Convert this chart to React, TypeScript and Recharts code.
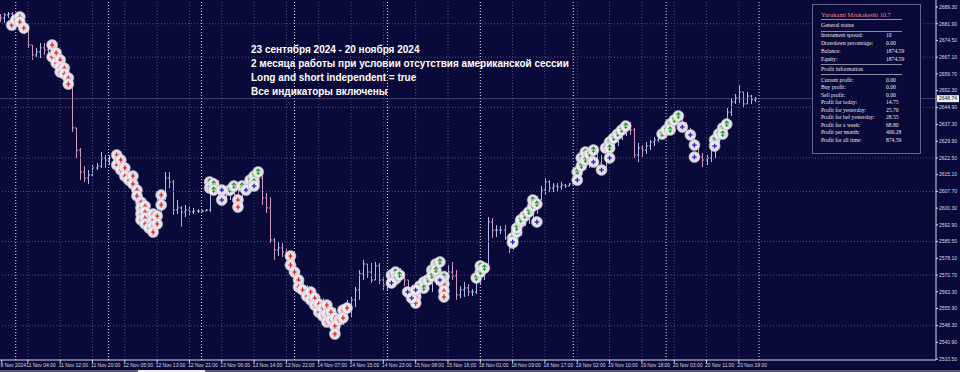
import { ComposedChart, Bar, Scatter, XAxis, YAxis, ReferenceLine } from "recharts";

const BG = "#0a0a3a";
const UP = "#aebcf0";
const DOWN = "#cc98bc";
const GRID = "#4e4e7e";
const SEP = "#e4e4f0";
const AXIS = "#d6d6e6";

// XAUUSD H1, 8 Nov 20:00 .. 20 Nov 23:00 (23 bars a day)
const opens = [
  2685.0, 2684.4, 2685.8, 2686.2,
  2684.4, 2682.7, 2680.9, 2679.1, 2672.5, 2668.1, 2669.4, 2671.2, 2670.3, 2671.2, 2669.4, 2665.0, 2661.4, 2657.9, 2655.2, 2635.8, 2626.0, 2616.3, 2613.6, 2615.0, 2618.1, 2618.9, 2622.5,
  2621.6, 2622.5, 2620.7, 2618.9, 2616.3, 2613.6, 2611.0, 2608.3, 2595.9, 2595.1, 2591.5, 2590.6, 2589.7, 2601.7, 2604.8, 2613.6, 2611.9, 2599.5, 2600.4, 2598.6, 2599.5, 2598.6, 2599.0,
  2599.0, 2599.0, 2599.5, 2610.5, 2611.4, 2607.4, 2605.7, 2606.1, 2608.3, 2606.1, 2601.7, 2608.3, 2610.5, 2612.7, 2614.5, 2613.6, 2604.8, 2600.4, 2586.2, 2581.8, 2582.7, 2580.9, 2579.1,
  2574.7, 2569.4, 2566.7, 2562.3, 2560.5, 2558.8, 2557.0, 2555.2, 2553.0, 2551.7, 2549.9, 2548.6, 2551.7, 2554.3, 2557.0, 2559.7, 2564.1, 2571.2, 2575.6, 2572.0, 2568.5, 2574.7, 2568.5,
  2566.3, 2567.2, 2570.3, 2572.0, 2570.7, 2568.5, 2561.4, 2559.7, 2563.2, 2566.7, 2568.5, 2569.4, 2572.9, 2574.7, 2570.3, 2563.2, 2572.0, 2570.3, 2561.9, 2564.1, 2565.0, 2563.2, 2563.2,
  2567.6, 2572.0, 2573.8, 2594.2, 2590.6, 2590.6, 2590.6, 2587.1, 2582.7, 2586.2, 2590.6, 2594.2, 2596.8, 2598.6, 2602.1, 2603.9, 2608.3, 2611.9, 2609.2, 2610.1, 2609.7, 2610.5, 2610.1,
  2611.0, 2611.9, 2615.4, 2621.6, 2623.8, 2623.4, 2621.6, 2620.3, 2618.1, 2626.0, 2629.6, 2631.3, 2633.1, 2634.9, 2636.6, 2634.9, 2623.8, 2626.9, 2626.0, 2627.8, 2629.6, 2630.5, 2632.7,
  2634.9, 2636.2, 2638.0, 2639.7, 2641.9, 2637.1, 2634.4, 2631.8, 2627.8, 2622.9, 2621.6, 2622.5, 2626.0, 2629.6, 2633.1, 2635.8, 2642.8, 2647.3, 2649.0, 2651.7, 2646.4, 2649.9, 2648.2,
];

const highs = [
  2686.2, 2686.6, 2687.1, 2687.1,
  2686.2, 2684.4, 2681.8, 2679.1, 2672.5, 2671.2, 2673.4, 2673.4, 2672.5, 2673.8, 2671.2, 2667.6, 2665.0, 2661.4, 2657.0, 2635.8, 2626.9, 2618.9, 2617.2, 2619.4, 2620.3, 2625.1, 2623.8,
  2623.8, 2625.1, 2623.8, 2621.6, 2619.4, 2617.2, 2613.6, 2609.2, 2606.1, 2602.6, 2599.5, 2598.6, 2605.7, 2607.4, 2616.3, 2616.3, 2612.7, 2603.9, 2601.2, 2601.7, 2600.8, 2600.4, 2599.9,
  2599.5, 2599.9, 2612.7, 2613.6, 2612.7, 2609.2, 2608.3, 2610.5, 2611.4, 2608.3, 2610.5, 2612.7, 2614.5, 2616.3, 2618.5, 2615.0, 2607.0, 2605.2, 2587.1, 2585.3, 2584.9, 2582.7, 2580.9,
  2575.6, 2572.9, 2567.6, 2566.3, 2564.1, 2563.2, 2561.4, 2560.5, 2558.8, 2557.4, 2556.1, 2555.2, 2557.4, 2559.7, 2561.0, 2565.4, 2572.9, 2577.4, 2575.6, 2576.0, 2576.5, 2576.0, 2569.8,
  2569.4, 2572.0, 2573.8, 2573.8, 2572.0, 2568.5, 2566.3, 2565.8, 2568.5, 2570.3, 2571.2, 2574.7, 2576.5, 2577.4, 2570.7, 2575.1, 2576.5, 2572.9, 2565.8, 2567.6, 2566.7, 2564.5, 2569.4,
  2573.8, 2575.6, 2596.4, 2595.9, 2592.8, 2592.4, 2592.8, 2588.0, 2588.0, 2592.4, 2595.9, 2598.6, 2600.4, 2603.9, 2605.7, 2610.1, 2613.6, 2612.7, 2611.4, 2611.4, 2611.9, 2611.0, 2611.4,
  2612.7, 2617.2, 2623.8, 2626.0, 2626.9, 2626.9, 2626.0, 2623.8, 2628.2, 2631.3, 2633.5, 2634.9, 2636.6, 2638.4, 2638.4, 2635.8, 2629.1, 2628.2, 2629.6, 2630.5, 2631.8, 2634.0, 2635.8,
  2637.5, 2639.3, 2641.1, 2642.8, 2642.4, 2638.4, 2635.8, 2632.2, 2628.2, 2624.7, 2623.8, 2626.9, 2631.3, 2634.9, 2637.5, 2644.6, 2649.0, 2650.8, 2654.8, 2651.7, 2651.7, 2650.4, 2649.5,
];

const lows = [
  2682.7, 2682.2, 2684.4, 2682.7,
  2680.9, 2679.1, 2677.4, 2671.2, 2665.9, 2667.2, 2666.7, 2668.1, 2668.1, 2668.1, 2663.2, 2658.8, 2656.1, 2653.5, 2634.0, 2622.5, 2612.7, 2611.9, 2611.0, 2614.5, 2617.2, 2618.1, 2618.1,
  2619.4, 2618.1, 2617.2, 2614.5, 2611.9, 2609.2, 2607.4, 2594.2, 2592.8, 2589.7, 2588.4, 2588.0, 2589.7, 2597.3, 2603.9, 2609.2, 2597.3, 2597.7, 2592.0, 2596.4, 2597.3, 2597.7, 2598.1,
  2598.6, 2599.0, 2598.6, 2606.1, 2604.8, 2603.0, 2602.6, 2603.9, 2601.7, 2599.5, 2600.4, 2606.1, 2607.4, 2608.3, 2610.5, 2601.7, 2598.1, 2584.9, 2577.4, 2579.1, 2578.7, 2576.5, 2572.9,
  2567.6, 2564.9, 2560.5, 2558.8, 2557.0, 2555.2, 2553.0, 2550.8, 2549.0, 2547.3, 2543.7, 2544.6, 2548.6, 2551.7, 2552.1, 2556.5, 2559.7, 2568.5, 2569.4, 2567.2, 2568.5, 2566.7, 2564.1,
  2564.1, 2564.9, 2566.3, 2567.6, 2565.8, 2559.7, 2557.4, 2557.0, 2561.4, 2563.2, 2564.1, 2563.2, 2566.3, 2568.5, 2560.5, 2564.1, 2568.5, 2559.7, 2560.5, 2561.0, 2561.4, 2561.4, 2562.3,
  2566.7, 2568.5, 2573.0, 2587.1, 2587.5, 2588.8, 2586.2, 2580.4, 2581.8, 2584.4, 2588.0, 2592.4, 2593.3, 2593.3, 2597.7, 2603.9, 2606.1, 2607.4, 2607.4, 2607.4, 2608.3, 2609.2, 2610.1,
  2611.0, 2611.4, 2614.5, 2617.2, 2618.1, 2619.4, 2618.1, 2616.3, 2618.1, 2623.8, 2626.0, 2627.8, 2630.4, 2632.2, 2632.7, 2622.5, 2620.7, 2622.9, 2624.3, 2626.0, 2627.8, 2629.6, 2631.3,
  2633.1, 2634.9, 2636.2, 2637.5, 2635.8, 2633.1, 2630.5, 2626.0, 2621.6, 2618.5, 2619.4, 2620.7, 2622.5, 2628.2, 2631.3, 2635.4, 2641.1, 2646.4, 2646.8, 2644.6, 2646.4, 2646.4, 2647.3,
];

const closes = [
  2684.4, 2685.8, 2686.2, 2684.4,
  2682.7, 2680.9, 2679.1, 2672.5, 2668.1, 2669.4, 2671.2, 2670.3, 2671.2, 2669.4, 2665.0, 2661.4, 2657.9, 2655.2, 2635.8, 2626.0, 2616.3, 2613.6, 2615.0, 2618.1, 2618.9, 2622.5, 2621.6,
  2622.5, 2620.7, 2618.9, 2616.3, 2613.6, 2611.0, 2608.3, 2595.9, 2595.1, 2591.5, 2590.6, 2589.7, 2601.7, 2604.8, 2613.6, 2611.9, 2599.5, 2600.4, 2598.6, 2599.5, 2598.6, 2599.0, 2599.0,
  2599.0, 2599.5, 2610.5, 2611.4, 2607.4, 2605.7, 2606.1, 2608.3, 2606.1, 2601.7, 2608.3, 2610.5, 2612.7, 2614.5, 2613.6, 2604.8, 2600.4, 2586.2, 2581.8, 2582.7, 2580.9, 2579.1, 2574.7,
  2569.4, 2566.7, 2562.3, 2560.5, 2558.8, 2557.0, 2555.2, 2553.0, 2551.7, 2549.9, 2548.6, 2551.7, 2554.3, 2557.0, 2559.7, 2564.1, 2571.2, 2575.6, 2572.0, 2568.5, 2574.7, 2568.5, 2566.3,
  2567.2, 2570.3, 2572.0, 2570.7, 2568.5, 2561.4, 2559.7, 2563.2, 2566.7, 2568.5, 2569.4, 2572.9, 2574.7, 2570.3, 2563.2, 2572.0, 2570.3, 2561.9, 2564.1, 2565.0, 2563.2, 2563.2, 2567.6,
  2572.0, 2573.8, 2594.2, 2590.6, 2590.6, 2590.6, 2587.1, 2582.7, 2586.2, 2590.6, 2594.2, 2596.8, 2598.6, 2602.1, 2603.9, 2608.3, 2611.9, 2609.2, 2610.1, 2609.7, 2610.5, 2610.1, 2611.0,
  2611.9, 2615.4, 2621.6, 2623.8, 2623.4, 2621.6, 2620.3, 2618.1, 2626.0, 2629.6, 2631.3, 2633.1, 2634.9, 2636.6, 2634.9, 2623.8, 2626.9, 2626.0, 2627.8, 2629.6, 2630.5, 2632.7, 2634.9,
  2636.2, 2638.0, 2639.7, 2641.9, 2637.1, 2634.4, 2631.8, 2627.8, 2622.9, 2621.6, 2622.5, 2626.0, 2629.6, 2633.1, 2635.8, 2642.8, 2647.3, 2649.0, 2651.7, 2646.4, 2649.9, 2648.2, 2648.7,
];

// trade arrows: [bar, price]
const sellMarks = [
  [3, 2681.3], [4, 2683.6], [5, 2684.9], [5, 2682.7], [6, 2680.0],
  [13, 2672.5], [13, 2667.2], [14, 2669.0], [14, 2664.5], [15, 2665.9], [15, 2662.8], [15, 2660.5], [16, 2662.3], [16, 2659.7], [17, 2657.9], [17, 2655.2],
  [29, 2623.8], [29, 2619.4], [30, 2621.6], [30, 2617.2], [31, 2618.1], [31, 2614.5], [32, 2612.7], [33, 2614.5], [33, 2611.0], [34, 2608.3], [34, 2605.7],
  [35, 2603.0], [35, 2600.4], [35, 2597.7], [35, 2595.1], [36, 2601.2], [36, 2598.6], [36, 2595.9], [36, 2593.3], [37, 2591.5],
  [38, 2597.7], [38, 2595.1], [38, 2592.4], [38, 2589.7], [39, 2596.8], [39, 2593.3], [40, 2606.1], [40, 2601.7],
  [59, 2603.9], [59, 2600.8],
  [72, 2579.1], [72, 2575.1], [73, 2572.0], [74, 2568.5], [74, 2565.4], [75, 2564.1], [76, 2561.4], [77, 2563.2], [77, 2559.7], [78, 2560.5], [78, 2557.4],
  [79, 2557.9], [79, 2554.3], [80, 2556.1], [80, 2552.6], [81, 2557.4], [81, 2553.5], [81, 2549.9], [82, 2554.3], [82, 2550.8],
  [83, 2551.7], [83, 2548.1], [83, 2544.6], [84, 2550.8], [85, 2555.2], [85, 2551.7], [86, 2556.1],
  [103, 2561.0], [103, 2558.3], [110, 2566.7], [110, 2563.6], [110, 2561.0],
];

const buyMarks = [
  [52, 2611.9], [52, 2609.2], [53, 2611.0], [53, 2608.3], [57, 2608.3], [58, 2610.1], [60, 2610.1], [62, 2612.7], [63, 2614.5], [63, 2611.9], [64, 2616.3],
  [97, 2570.7], [98, 2572.0], [98, 2568.9], [99, 2570.7], [104, 2565.8], [105, 2567.6], [105, 2564.9], [106, 2568.5], [107, 2572.9], [107, 2570.3],
  [108, 2575.6], [108, 2572.9], [109, 2576.5], [110, 2570.0], [118, 2569.4], [119, 2572.0], [119, 2574.7], [120, 2573.8],
  [127, 2587.1], [127, 2584.9], [128, 2589.7], [128, 2591.5], [129, 2594.2], [129, 2595.1], [130, 2596.8], [131, 2598.6], [132, 2601.2], [132, 2603.9], [133, 2602.1],
  [143, 2616.3], [144, 2619.0], [144, 2622.5], [145, 2625.1], [145, 2621.6], [146, 2624.3], [147, 2626.0], [150, 2626.9], [151, 2629.6], [151, 2626.9],
  [152, 2631.3], [153, 2633.1], [154, 2634.9], [155, 2636.6],
  [164, 2633.1], [165, 2634.9], [166, 2637.5], [166, 2634.9], [167, 2639.3], [168, 2641.1],
  [177, 2630.5], [178, 2633.1], [179, 2635.8], [179, 2633.1], [180, 2637.5],
];

const closeMarks = [
  [55, 2608.3], [55, 2603.9], [61, 2608.3], [63, 2610.1],
  [97, 2567.2], [101, 2563.2], [102, 2560.5], [103, 2564.1], [109, 2568.5],
  [127, 2585.3], [133, 2594.2],
  [143, 2612.7], [147, 2620.7], [149, 2617.2], [151, 2622.5],
  [169, 2636.2], [171, 2632.7], [172, 2628.2], [172, 2622.9],
  [177, 2627.8],
];

const timeTicks = [0.5, 7, 15, 23, 31, 39, 47, 55, 63, 71, 79, 87, 95, 103, 111, 119, 127, 135, 143, 151, 159, 167, 175, 183];
const timeLabels = [
  "8 Nov 2024", "11 Nov 04:00", "11 Nov 12:00", "11 Nov 20:00", "12 Nov 05:00", "12 Nov 13:00", "12 Nov 21:00", "13 Nov 06:00",
  "13 Nov 14:00", "13 Nov 22:00", "14 Nov 07:00", "14 Nov 15:00", "14 Nov 23:00", "15 Nov 08:00", "15 Nov 16:00", "18 Nov 01:00",
  "18 Nov 09:00", "18 Nov 17:00", "19 Nov 02:00", "19 Nov 10:00", "19 Nov 18:00", "20 Nov 03:00", "20 Nov 11:00", "20 Nov 19:00",
];
const daySeparators = [4, 27, 50, 73, 96, 119, 142, 165, 188];

const priceLabels = [
  "2689.30", "2681.90", "2674.50", "2667.10", "2659.70", "2652.30", "2644.90", "2637.30", "2629.90", "2622.50", "2615.10",
  "2607.70", "2600.30", "2592.90", "2585.50", "2578.10", "2570.70", "2563.30", "2555.90", "2548.30", "2540.90", "2533.50",
];
const priceTicks = priceLabels.map(Number);
const priceGrid = [2681.9, 2667.1, 2644.9, 2622.5, 2607.7, 2585.5, 2570.7, 2548.3];
const bid = 2648.74;

const annotationLines = [
  "23 сентября 2024 - 20 ноября 2024",
  "2 месяца работы при условии отсутствия американской сессии",
  "Long and short independent = true",
  "Все индикаторы включены",
];

const panelTitle = "Yarukami Mrukakeshi 10.7";
const generalRows = [
  ["Instrument spread:", "10"],
  ["Drawdown percentage:", "0.00"],
  ["Balance:", "1874.59"],
  ["Equity:", "1874.59"],
];
const profitRows = [
  ["Current profit:", "0.00"],
  ["Buy profit:", "0.00"],
  ["Sell profit:", "0.00"],
  ["Profit for today:", "14.75"],
  ["Profit for yesterday:", "25.70"],
  ["Profit for bef yesterday:", "28.55"],
  ["Profit for a week:", "68.80"],
  ["Profit per month:", "400.28"],
  ["Profit for all time:", "874.59"],
];

const bars = opens.map((o, i) => ({ i, o, h: highs[i], l: lows[i], c: closes[i], range: [lows[i], highs[i]] }));
const toPts = (arr: number[][]) => arr.map(([i, p]) => ({ i, p }));

function OhlcBar(props: any) {
  const { x, y, width, height, payload } = props;
  if (x == null || y == null) return null;
  const top = Math.min(y, y + height);
  const h = Math.abs(height);
  const cx = Math.floor(x + width / 2) + 0.5;
  const span = payload.h - payload.l || 1;
  const yo = top + ((payload.h - payload.o) / span) * h;
  const yc = top + ((payload.h - payload.c) / span) * h;
  const col = payload.c >= payload.o ? UP : DOWN;
  return (
    <g stroke={col} strokeWidth={1}>
      <line x1={cx} x2={cx} y1={top} y2={top + Math.max(h, 1)} />
      <line x1={cx - 1.5} x2={cx} y1={yo} y2={yo} />
      <line x1={cx} x2={cx + 1.5} y1={yc} y2={yc} />
    </g>
  );
}

function Mark({ cx, cy, kind }: any) {
  if (cx == null || cy == null) return null;
  let glyph = null;
  if (kind === "sell") {
    glyph = (
      <g stroke="#e01c1c" strokeWidth={1.2}>
        <line x1={cx} x2={cx} y1={cy - 2.6} y2={cy + 2.6} />
        <line x1={cx - 2} x2={cx + 2} y1={cy} y2={cy} />
      </g>
    );
  } else if (kind === "buy") {
    glyph = (
      <g stroke="#1f9a2a" strokeWidth={1.1} fill="none">
        <line x1={cx} x2={cx} y1={cy - 3} y2={cy + 3} />
        <polyline points={`${cx - 2},${cy - 0.8} ${cx},${cy - 3} ${cx + 2},${cy - 0.8}`} />
        <line x1={cx - 1.6} x2={cx + 1.6} y1={cy + 1.2} y2={cy + 1.2} />
      </g>
    );
  } else {
    glyph = (
      <g stroke="#2222c8" strokeWidth={1.3}>
        <line x1={cx} x2={cx} y1={cy - 2.3} y2={cy + 2.3} />
        <line x1={cx - 2.3} x2={cx + 2.3} y1={cy} y2={cy} />
      </g>
    );
  }
  return (
    <g>
      <circle cx={cx} cy={cy} r={5.5} fill="#f1ecf2" fillOpacity={0.94} stroke="#bfb4c8" strokeWidth={0.6} />
      {glyph}
    </g>
  );
}

function TimeTick({ x, y, payload }: any) {
  const k = timeTicks.indexOf(payload.value);
  const dx = k === 0 ? -x + 0.5 : -1.5;
  return (
    <text x={x + dx} y={y + 2} fontSize={5} fill={AXIS} fontFamily="'Liberation Sans', Arial, sans-serif">
      {timeLabels[k]}
    </text>
  );
}

function PriceTick({ x, y, payload }: any) {
  const k = priceTicks.indexOf(payload.value);
  return (
    <text x={x} y={y + 1.8} fontSize={5} fill={AXIS} fontFamily="'Liberation Sans', Arial, sans-serif">
      {priceLabels[k]}
    </text>
  );
}

function BidLabel({ viewBox }: any) {
  if (!viewBox) return null;
  const x = viewBox.x + viewBox.width;
  const y = viewBox.y;
  return (
    <g>
      <rect x={x + 1} y={y - 3.5} width={22} height={7} fill="#f2f2f2" />
      <text x={x + 3} y={y + 1.8} fontSize={5} fill="#101010" fontFamily="'Liberation Sans', Arial, sans-serif">
        {bid.toFixed(2)}
      </text>
    </g>
  );
}

const rule = (top: number) => (
  <div style={{ position: "absolute", left: 8, top, width: 81, borderTop: "1px solid #8c8ca6" }} />
);

export default function App() {
  return (
    <div style={{ position: "relative", width: 960, height: 372, background: BG, overflow: "hidden" }}>
      <style>{"body{margin:0}"}</style>
      <ComposedChart width={960} height={372} data={bars} margin={{ top: 0, right: 0, bottom: 0, left: 0 }}>
        <XAxis
          dataKey="i"
          type="number"
          domain={[0.1, 231.8]}
          allowDataOverflow
          ticks={timeTicks}
          interval={0}
          tick={<TimeTick />}
          tickSize={3}
          height={12}
          stroke={AXIS}
        />
        <YAxis
          orientation="right"
          type="number"
          domain={[2533.1, 2692.4]}
          allowDataOverflow
          ticks={priceTicks}
          interval={0}
          tick={<PriceTick />}
          tickSize={2}
          tickMargin={1}
          width={24}
          stroke={AXIS}
        />
        {priceGrid.map((v) => (
          <ReferenceLine key={"h" + v} y={v} stroke={GRID} strokeDasharray="1 2" />
        ))}
        {timeTicks.slice(1).map((v) => (
          <ReferenceLine key={"v" + v} x={v} stroke={GRID} strokeDasharray="1 2" />
        ))}
        {daySeparators.map((v) => (
          <ReferenceLine key={"d" + v} x={v} stroke={SEP} strokeDasharray="1 2" />
        ))}
        <ReferenceLine y={bid} stroke="#7a7a9c" strokeWidth={0.5} label={<BidLabel />} />
        <Bar dataKey="range" barSize={1} shape={(p: any) => <OhlcBar {...p} />} isAnimationActive={false} />
        <Scatter data={toPts(sellMarks)} dataKey="p" shape={(p: any) => <Mark {...p} kind="sell" />} isAnimationActive={false} />
        <Scatter data={toPts(buyMarks)} dataKey="p" shape={(p: any) => <Mark {...p} kind="buy" />} isAnimationActive={false} />
        <Scatter data={toPts(closeMarks)} dataKey="p" shape={(p: any) => <Mark {...p} kind="close" />} isAnimationActive={false} />
      </ComposedChart>

      <div
        style={{
          position: "absolute",
          left: 251,
          top: 43,
          color: "#ffffff",
          fontFamily: "'Liberation Sans', Arial, sans-serif",
          fontWeight: "bold",
          fontSize: 10,
          lineHeight: "14.1px",
          whiteSpace: "nowrap",
        }}
      >
        {annotationLines.map((t) => (
          <div key={t}>{t}</div>
        ))}
      </div>

      <div
        style={{
          position: "absolute",
          left: 812,
          top: 4,
          width: 107,
          height: 148,
          border: "1px solid #66668a",
          background: "#09093a",
          fontFamily: "'Liberation Serif', 'Times New Roman', serif",
          color: "#e6e6ee",
          whiteSpace: "nowrap",
        }}
      >
        <div style={{ position: "absolute", left: 8, top: 5.7, fontSize: 6.4, lineHeight: "8px", color: "#e8868c" }}>
          {panelTitle}
        </div>
        {rule(14.3)}
        <div style={{ position: "absolute", left: 8, top: 16.5, fontSize: 5.8, lineHeight: "7px" }}>General status</div>
        {rule(26)}
        {generalRows.map(([k, v], n) => (
          <div key={k} style={{ position: "absolute", left: 8, top: 27.2 + n * 7.87, fontSize: 5.6, lineHeight: "7px", width: 96 }}>
            <span>{k}</span>
            <span style={{ position: "absolute", left: 65 }}>{v}</span>
          </div>
        ))}
        {rule(59.3)}
        <div style={{ position: "absolute", left: 8, top: 60.8, fontSize: 5.8, lineHeight: "7px" }}>Profit information</div>
        {rule(69)}
        {profitRows.map(([k, v], n) => (
          <div key={k} style={{ position: "absolute", left: 8, top: 71.5 + n * 7.54, fontSize: 5.6, lineHeight: "7px", width: 96 }}>
            <span>{k}</span>
            <span style={{ position: "absolute", left: 65 }}>{v}</span>
          </div>
        ))}
      </div>

      <div style={{ position: "absolute", left: 0, top: 370, width: 960, height: 2, background: "#5c5c70" }} />
      <div style={{ position: "absolute", left: 138, top: 370, width: 67, height: 2, background: "#f0f0f0" }} />
    </div>
  );
}
